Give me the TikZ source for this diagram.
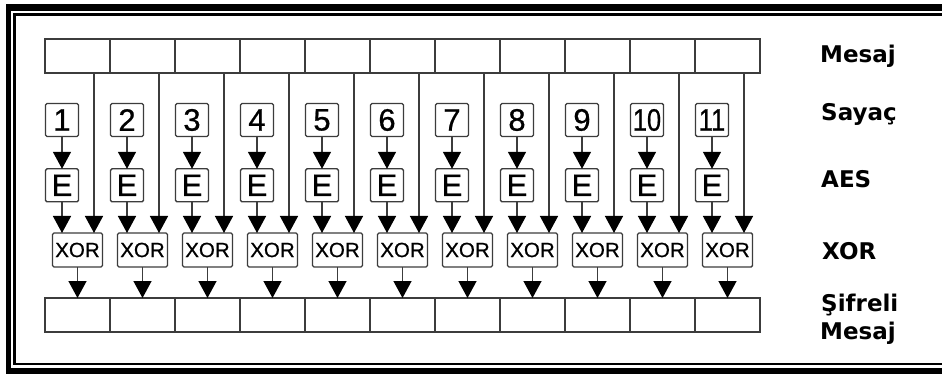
\documentclass[tikz,border=0pt]{standalone}
\usepackage{fontspec}
\setmainfont{Liberation Sans}
\newfontfamily\boxfont{Liberation Sans}[FakeBold=0.7]
\newfontfamily\labfont{DejaVu Sans}
\usetikzlibrary{arrows.meta}
\definecolor{ln}{RGB}{60,60,60}
\tikzset{
  cell/.style={draw=ln, line width=1.4pt, minimum width=65pt, minimum height=34pt, inner sep=0pt, outer sep=0pt},
  smallbox/.style={draw=ln, line width=1.4pt, rounded corners=1.5pt, minimum width=33pt, minimum height=33pt, inner sep=0pt, outer sep=0pt, font=\boxfont\fontsize{31}{31}\selectfont},
  xorbox/.style={draw=ln, line width=1.4pt, rounded corners=1.5pt, minimum width=50pt, minimum height=34pt, inner sep=0pt, outer sep=0pt, font=\boxfont\fontsize{20.5}{20.5}\selectfont},
  arr/.style={draw=ln, line width=1.4pt, -{Triangle[width=18pt,length=17pt,color=black,fill=black]}},
  lab/.style={anchor=base west, inner sep=0pt, font=\labfont\bfseries\fontsize{23}{23}\selectfont}
}
\begin{document}
\begin{tikzpicture}[x=1pt,y=-1pt]
\useasboundingbox (0,0) rectangle (942,374);
% frame
\fill[black] (6,4) rectangle (960,390);
\fill[white] (11,11) rectangle (950,368.3);
\draw[line width=2.8pt] (14.5,14.3) rectangle (955,364);
\fill[white] (16,15.8) rectangle (950,362.6);
% rows
\foreach \i in {1,...,11}{
  \pgfmathsetmacro{\cx}{12.5+65*\i}
  \node[cell] (m\i) at (\cx,56) {};
  \node[cell] (s\i) at (\cx,315) {};
  \node[xorbox] (x\i) at (\cx,250) {XOR};
  \node[smallbox] (e\i) at (\cx-15.5,185.3) {E};
}
\foreach \i in {1,...,9}{
  \pgfmathsetmacro{\cx}{12.5+65*\i}
  \node[smallbox] (c\i) at (\cx-15.5,120) {\i};
}
\node[smallbox] (c10) at (12.5+650-15.5,120) {\scalebox{0.82}[1]{10}};
\node[smallbox] (c11) at (12.5+715-15.5,120) {\scalebox{0.82}[1]{11}};
% connectors
\foreach \i in {1,...,11}{
  \draw[arr] (c\i) -- (e\i);
  \draw[arr] (e\i.south) -- (e\i.south |- x\i.north);
  \coordinate (mo\i) at ([xshift=16.5pt]m\i.south);
  \draw[arr] (mo\i) -- (mo\i |- x\i.north);
  \draw[arr] (x\i.south) -- (x\i.south |- s\i.north);
}
% labels
\node[lab] (lm) at (820,63) {Mesaj};
\node[lab] (ls) at (821,121) {Sayaç};
\node[lab] (la) at (821,188) {AES};
\node[lab] (lx) at (822,259) {XOR};
\node[lab] (lc1) at (821,311.5) {Şifreli};
\node[lab] (lc2) at (820,339.5) {Mesaj};
\end{tikzpicture}
\end{document}
